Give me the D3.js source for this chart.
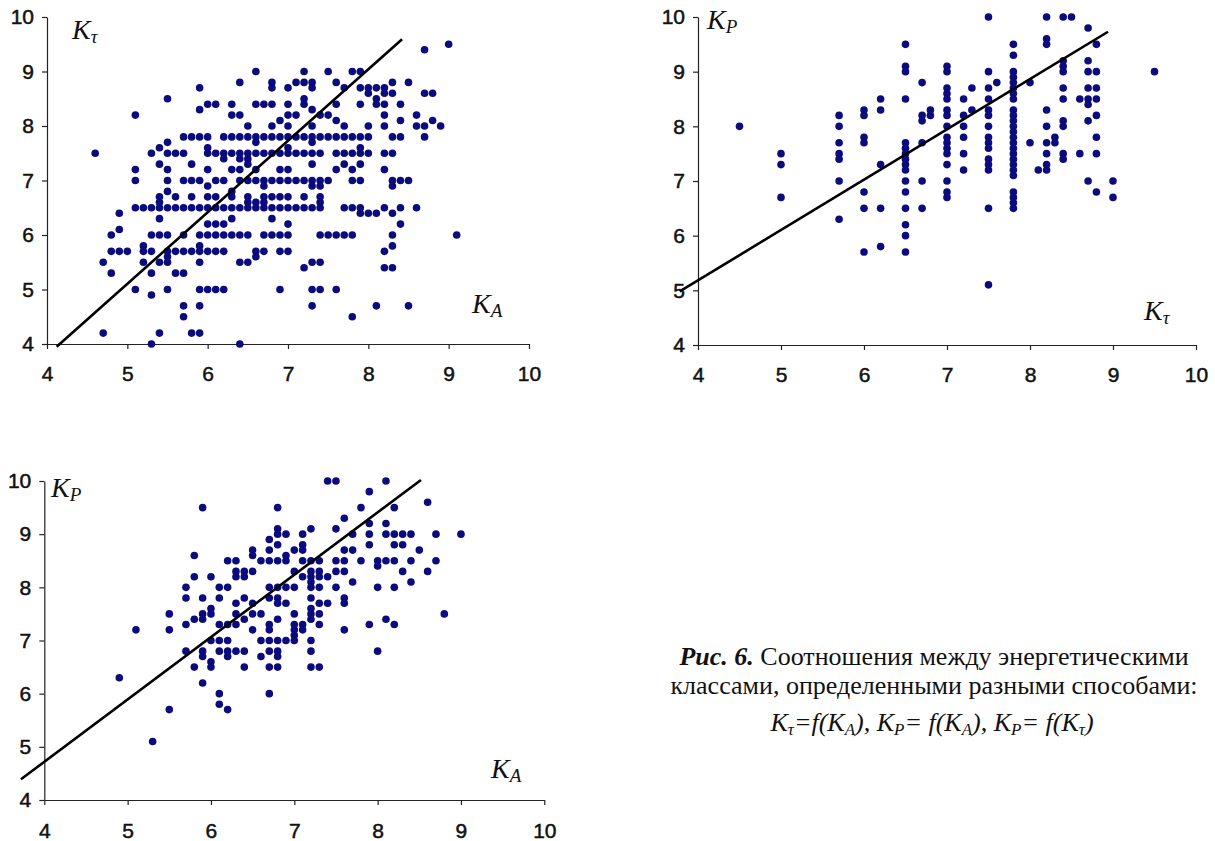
<!DOCTYPE html>
<html>
<head>
<meta charset="utf-8">
<script src="https://cdn.jsdelivr.net/npm/d3@7"></script>
<style>
  body { margin: 0; background: #fff; }
  svg { display: block; }
</style>
</head>
<body>
<svg width="1215" height="841"></svg>
<script>
// values (energy classes, step 0.1)

const axisTicks = [4, 5, 6, 7, 8, 9, 10];

// panel 1: K_tau = f(K_A)   rows are [K_tau, [K_A ...]]
const ktByKa = [
  [9.5, [9.0]],
  [9.4, [8.7]],
  [9.0, [6.6, 7.2, 7.5, 7.8, 7.9]],
  [8.8, [6.4, 6.8, 7.1, 7.2, 7.3, 7.6, 8.3, 8.5]],
  [8.7, [5.9, 6.8, 7.0, 7.3, 7.7, 7.9, 8.0, 8.1, 8.2]],
  [8.6, [8.0, 8.2, 8.3, 8.7, 8.8]],
  [8.5, [5.5, 7.2, 8.1]],
  [8.4, [6.0, 6.1, 6.3, 6.6, 6.7, 6.8, 7.0, 7.2, 7.6, 7.9, 8.1, 8.2, 8.4]],
  [8.3, [5.9, 7.3]],
  [8.2, [5.1, 6.3, 6.4, 7.0, 7.1, 7.4, 7.5, 8.2, 8.6]],
  [8.1, [6.9, 7.6, 8.4, 8.8]],
  [8.0, [6.5, 6.8, 7.0, 7.3, 7.7, 8.0, 8.2, 8.6, 8.7, 8.9]],
  [7.8, [5.7, 5.8, 5.9, 6.0, 6.2, 6.3, 6.4, 6.5, 6.6, 6.7, 6.8, 6.9, 7.0, 7.1, 7.2, 7.3, 7.4, 7.5, 7.6, 7.7, 7.8, 7.9, 8.0, 8.3, 8.4, 8.7]],
  [7.7, [5.5, 6.6, 7.3]],
  [7.6, [5.4, 6.0, 7.0, 7.9]],
  [7.5, [4.6, 5.3, 5.5, 5.6, 5.7, 6.0, 6.1, 6.2, 6.3, 6.4, 6.5, 6.6, 6.7, 6.8, 6.9, 7.0, 7.1, 7.2, 7.3, 7.4, 7.6, 7.7, 7.8, 7.9, 8.0, 8.2, 8.3]],
  [7.4, [6.2, 6.4, 6.5]],
  [7.3, [5.4, 5.8, 6.5, 7.3, 7.7, 7.9]],
  [7.2, [5.1, 5.5, 6.0, 6.3, 6.4, 6.6, 6.9, 7.0, 7.6, 7.8, 8.2]],
  [7.0, [5.1, 5.5, 5.7, 5.8, 5.9, 6.1, 6.2, 6.4, 6.5, 6.6, 6.7, 6.8, 6.9, 7.0, 7.1, 7.2, 7.3, 7.4, 7.5, 7.8, 7.9, 8.3, 8.4, 8.5]],
  [6.9, [6.0, 6.7, 7.3, 7.4, 8.3]],
  [6.8, [5.5, 6.3]],
  [6.7, [5.4, 5.6, 5.8, 6.0, 6.1, 6.3, 6.5, 6.7, 6.8, 6.9, 7.0, 7.2, 7.4]],
  [6.6, [5.4, 6.5, 6.6, 6.7, 7.4]],
  [6.5, [5.1, 5.2, 5.3, 5.4, 5.5, 5.6, 5.7, 5.8, 5.9, 6.0, 6.1, 6.2, 6.3, 6.4, 6.5, 6.6, 6.7, 6.8, 6.9, 7.0, 7.1, 7.2, 7.3, 7.4, 7.7, 7.8, 7.9, 8.2, 8.4, 8.6]],
  [6.4, [4.9, 7.9, 8.0, 8.1, 8.3]],
  [6.3, [5.4, 6.3, 6.8]],
  [6.2, [6.0, 6.1, 6.2, 7.0, 8.4]],
  [6.1, [4.9]],
  [6.0, [4.8, 5.3, 5.4, 5.5, 5.7, 5.9, 6.0, 6.1, 6.2, 6.3, 6.4, 6.5, 6.7, 6.8, 6.9, 7.0, 7.4, 7.5, 7.6, 7.7, 7.8, 8.3, 9.1]],
  [5.8, [5.2, 5.9, 8.3]],
  [5.7, [4.8, 4.9, 5.0, 5.2, 5.3, 5.5, 5.6, 5.7, 5.8, 5.9, 6.0, 6.1, 6.2, 6.6, 6.7, 6.9, 7.0, 8.2]],
  [5.6, [5.5, 6.6]],
  [5.5, [4.7, 5.2, 5.4, 5.5, 5.9, 6.4, 6.5, 7.3, 7.4]],
  [5.4, [7.2, 8.2, 8.3]],
  [5.3, [4.8, 5.3, 5.6, 5.7]],
  [5.0, [5.1, 5.5, 5.9, 6.0, 6.1, 6.2, 6.9, 7.3, 7.4, 7.6]],
  [4.9, [5.3]],
  [4.7, [5.7, 5.9, 7.3, 8.1, 8.5]],
  [4.5, [5.7, 7.8]],
  [4.2, [4.7, 5.4, 5.8, 5.9]],
  [4.0, [5.3, 6.4]]
];

// panel 2: K_P = f(K_tau)   rows are [K_tau, [K_P ...]]
const kpByKt = [
  [4.5, [8.0]],
  [5.0, [7.5, 7.3, 6.7]],
  [5.7, [8.2, 8.0, 7.7, 7.5, 7.4, 7.0, 6.3]],
  [6.0, [8.3, 8.2, 7.8, 7.7, 6.8, 6.5, 5.7]],
  [6.2, [8.5, 8.3, 7.3, 6.5, 5.8]],
  [6.5, [9.5, 9.1, 9.0, 8.5, 7.7, 7.6, 7.5, 7.4, 7.3, 7.2, 7.0, 6.8, 6.5, 6.2, 6.0, 5.7]],
  [6.7, [8.8, 8.2, 8.1, 7.7, 7.0, 6.5]],
  [6.8, [8.3, 8.2]],
  [7.0, [9.1, 9.0, 8.7, 8.6, 8.5, 8.3, 8.2, 8.0, 7.8, 7.7, 7.6, 7.5, 7.3, 7.0, 6.8, 6.7]],
  [7.2, [8.5, 8.2, 8.0, 7.8, 7.5, 7.2]],
  [7.3, [8.7, 8.3]],
  [7.5, [10.0, 9.0, 8.7, 8.5, 8.3, 8.2, 8.0, 7.8, 7.7, 7.6, 7.4, 7.3, 7.2, 6.5, 5.1]],
  [7.6, [8.8]],
  [7.8, [9.5, 9.3, 9.0, 8.9, 8.8, 8.7, 8.6, 8.5, 8.3, 8.2, 8.1, 8.0, 7.9, 7.8, 7.7, 7.6, 7.5, 7.4, 7.3, 7.2, 7.1, 6.8, 6.7, 6.6, 6.5]],
  [8.0, [8.8, 7.7]],
  [8.1, [7.2]],
  [8.2, [10.0, 9.6, 9.5, 8.3, 8.0, 7.7, 7.5, 7.3, 7.2]],
  [8.3, [7.8, 7.7]],
  [8.4, [10.0, 9.2, 9.1, 9.0, 8.7, 8.5, 8.1, 8.0, 7.5, 7.4]],
  [8.5, [10.0]],
  [8.6, [8.5, 7.5]],
  [8.7, [9.8, 9.2, 9.0, 8.7, 8.5, 8.4, 8.1, 7.0]],
  [8.8, [9.5, 9.0, 8.7, 8.5, 8.2, 7.8, 7.5, 6.8]],
  [9.0, [7.0, 6.7]],
  [9.5, [9.0]]
];

// panel 3: K_P = f(K_A)   rows are [K_P, [K_A ...]]
const kpByKa = [
  [10.0, [7.4, 7.5, 8.1]],
  [9.8, [7.9]],
  [9.6, [8.6]],
  [9.5, [5.9, 6.8, 7.8, 8.2]],
  [9.3, [7.6]],
  [9.2, [7.9, 8.1]],
  [9.1, [6.8, 7.2, 7.5]],
  [9.0, [6.8, 6.9, 7.1, 7.7, 7.9, 8.1, 8.2, 8.3, 8.4, 8.7, 9.0]],
  [8.9, [6.7]],
  [8.8, [6.8, 7.1, 7.9, 8.2, 8.3]],
  [8.7, [6.5, 6.7, 7.0, 7.1, 7.6, 7.7, 8.5]],
  [8.6, [5.8, 6.5, 6.9]],
  [8.5, [6.2, 6.3, 6.6, 6.7, 6.8, 6.9, 7.1, 7.2, 7.3, 7.5, 7.6, 7.8, 8.0, 8.1, 8.2, 8.4, 8.7]],
  [8.4, [8.0]],
  [8.3, [6.3, 6.4, 6.5, 7.0, 7.2, 7.3, 7.5, 7.6, 8.3, 8.6]],
  [8.2, [5.8, 6.0, 6.3, 6.4, 7.1, 7.2, 7.3, 7.4]],
  [8.1, [7.2, 7.7, 8.4]],
  [8.0, [5.7, 6.1, 6.2, 6.7, 6.8, 6.9, 7.0, 7.2, 7.3, 7.5, 8.0, 8.2]],
  [7.8, [5.7, 5.9, 6.1, 6.4, 6.7, 6.8, 7.2, 7.6]],
  [7.7, [6.3, 6.5, 6.8, 6.9, 7.3, 7.4, 7.6]],
  [7.6, [6.0, 7.2]],
  [7.5, [5.5, 5.9, 6.0, 6.3, 6.5, 6.6, 7.0, 7.2, 7.3, 8.8]],
  [7.4, [5.8, 5.9, 6.4, 6.8, 7.2, 8.1]],
  [7.3, [5.7, 6.1, 6.2, 6.3, 6.7, 7.0, 7.1, 7.3, 7.9, 8.2]],
  [7.2, [5.1, 5.5, 6.5, 6.7, 7.0, 7.1, 7.6]],
  [7.1, [7.0]],
  [7.0, [6.0, 6.1, 6.2, 6.6, 6.7, 6.8, 6.9, 7.0, 7.2]],
  [6.8, [5.7, 5.9, 6.1, 6.2, 6.3, 6.4, 6.7, 6.8, 7.2, 8.0]],
  [6.7, [5.9, 6.2, 6.6, 6.8]],
  [6.6, [6.0]],
  [6.5, [5.8, 6.0, 6.4, 6.7, 6.8, 7.2, 7.3]],
  [6.3, [4.9]],
  [6.2, [5.9]],
  [6.0, [6.1, 6.7]],
  [5.8, [6.1]],
  [5.7, [5.5, 6.2]],
  [5.1, [5.3]]
];

// regression lines, end points [x, y]
const fitKtKa = [[4.12, 3.95], [8.42, 9.59]];
const fitKpKt = [[3.78, 4.98], [8.94, 9.73]];
const fitKpKa = [[3.72, 4.39], [8.52, 10.02]];

const svg = d3.select('svg');
const dotColor = '#0b0b7e';
const serif = "'Liberation Serif', 'Times New Roman', serif";
const sans = "'Liberation Sans', Arial, sans-serif";

// rows -> list of {x, y}
function toPoints(rows, groupedByY) {
  return rows.flatMap(([k, vals]) =>
    vals.map(v => groupedByY ? { x: v, y: k } : { x: k, y: v }));
}

// italic K with a subscript
function kLabel(g, x, y, sub) {
  const t = g.append('text')
    .attr('x', x).attr('y', y)
    .attr('font-family', serif)
    .attr('font-style', 'italic')
    .attr('font-size', 28)
    .attr('fill', '#111');
  t.append('tspan').text('K');
  t.append('tspan').attr('dy', 4).attr('font-size', 19).text(sub);
}

function panel(p) {
  const x = d3.scaleLinear().domain([4, 10]).range([p.left, p.right]);
  const y = d3.scaleLinear().domain([4, 10]).range([p.bottom, p.top]);
  const g = svg.append('g');

  const xAxis = g.append('g')
    .attr('transform', `translate(0,${p.bottom})`)
    .call(d3.axisBottom(x).tickValues(axisTicks).tickFormat(d3.format('d'))
      .tickSize(5).tickSizeOuter(0).tickPadding(p.xPad));

  const yAxis = g.append('g')
    .attr('transform', `translate(${p.left},0)`)
    .call(d3.axisLeft(y).tickValues(axisTicks).tickFormat(d3.format('d'))
      .tickSize(5).tickSizeOuter(0).tickPadding(8));

  [xAxis, yAxis].forEach(a => {
    a.select('.domain').attr('stroke', '#222').attr('stroke-width', 1.2);
    a.selectAll('.tick line').attr('stroke', '#222').attr('stroke-width', 1.2);
    a.selectAll('.tick text')
      .attr('font-family', sans)
      .attr('font-size', 21)
      .attr('fill', '#111')
      .attr('stroke', '#111')
      .attr('stroke-width', 0.5);
  });

  g.append('g').selectAll('circle')
    .data(p.points)
    .join('circle')
    .attr('cx', d => x(d.x))
    .attr('cy', d => y(d.y))
    .attr('r', 3.8)
    .attr('fill', dotColor);

  g.append('path')
    .datum(p.fit)
    .attr('d', d3.line().x(d => x(d[0])).y(d => y(d[1])))
    .attr('fill', 'none')
    .attr('stroke', '#000')
    .attr('stroke-width', 2.6);

  kLabel(g, p.yLab[0], p.yLab[1], p.yLab[2]);
  kLabel(g, p.xLab[0], p.xLab[1], p.xLab[2]);
}

panel({
  left: 47, right: 529, top: 17, bottom: 344, xPad: 17,
  points: toPoints(ktByKa, true), fit: fitKtKa,
  yLab: [72, 39, 'τ'], xLab: [472, 313, 'A']
});

panel({
  left: 698, right: 1196, top: 17, bottom: 345, xPad: 17,
  points: toPoints(kpByKt, false), fit: fitKpKt,
  yLab: [707, 29, 'P'], xLab: [1144, 320, 'τ']
});

panel({
  left: 44.3, right: 544.3, top: 481, bottom: 800, xPad: 18,
  points: toPoints(kpByKa, true), fit: fitKpKa,
  yLab: [51, 497, 'P'], xLab: [491, 778, 'A']
});

// caption
const capX = 934;
const capSize = 26;
const l1 = svg.append('text')
  .attr('x', capX).attr('y', 665)
  .attr('text-anchor', 'middle')
  .attr('font-family', serif).attr('font-size', capSize).attr('fill', '#111');
l1.append('tspan').attr('font-weight', 'bold').attr('font-style', 'italic').text('Рис. 6.');
l1.append('tspan').text(' Соотношения между энергетическими');

svg.append('text')
  .attr('x', capX).attr('y', 694)
  .attr('text-anchor', 'middle')
  .attr('font-family', serif).attr('font-size', capSize).attr('fill', '#111')
  .text('классами, определенными разными способами:');

const l3 = svg.append('text')
  .attr('x', capX - 2).attr('y', 731)
  .attr('text-anchor', 'middle')
  .attr('font-family', serif).attr('font-style', 'italic')
  .attr('font-size', capSize).attr('fill', '#111');
const parts = [
  ['K', ''], ['τ', 's'], ['=f(K', ''], ['A', 's'], ['), K', ''], ['P', 's'],
  ['= f(K', ''], ['A', 's'], ['), K', ''], ['P', 's'], ['= f(K', ''], ['τ', 's'], [')', '']
];
let low = false;
parts.forEach(([txt, kind]) => {
  const isSub = kind === 's';
  const ts = l3.append('tspan').text(txt);
  if (isSub && !low) ts.attr('dy', 4);
  if (!isSub && low) ts.attr('dy', -4);
  if (isSub) ts.attr('font-size', 17);
  low = isSub;
});
</script>
</body>
</html>
